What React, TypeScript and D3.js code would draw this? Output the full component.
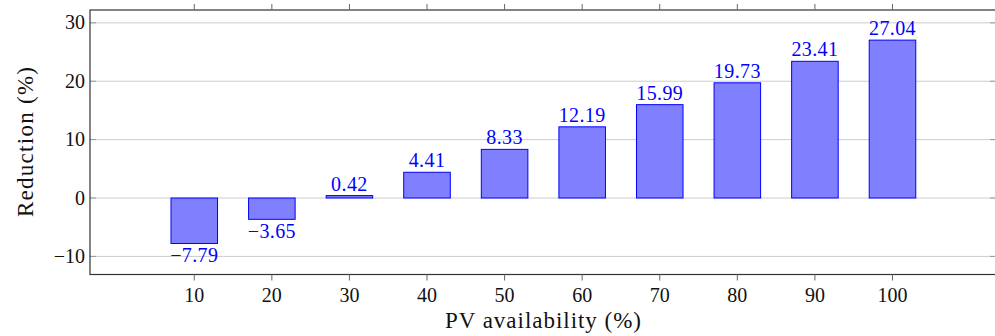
import React, { useEffect, useRef } from "react";
import * as d3 from "d3";

const categories = [10, 20, 30, 40, 50, 60, 70, 80, 90, 100];
const reductions = [-7.79, -3.65, 0.42, 4.41, 8.33, 12.19, 15.99, 19.73, 23.41, 27.04];
const yTicks = [-10, 0, 10, 20, 30];
const xLabel = "PV availability (%)";
const yLabel = "Reduction (%)";

const W = 995;
const H = 336;
const left = 90;
const right = 998;
const top = 10;
const bottom = 274.5;
const FONT = "'Liberation Serif', serif";

export default function App() {
  const ref = useRef<SVGSVGElement | null>(null);

  useEffect(() => {
    const svg = d3.select(ref.current);
    svg.selectAll("*").remove();

    const x = d3.scaleLinear().domain([-3.44, 113.6]).range([left, right]);
    const y = d3.scaleLinear().domain([-13.1, 32.2]).range([bottom, top]);
    const barW = x(6) - x(0);

    svg
      .append("g")
      .selectAll("line")
      .data(yTicks)
      .join("line")
      .attr("x1", left)
      .attr("x2", right)
      .attr("y1", (d) => y(d))
      .attr("y2", (d) => y(d))
      .attr("stroke", "#cccccc")
      .attr("stroke-width", 1);

    const yt = svg.append("g");
    yt.selectAll("line.l")
      .data(yTicks)
      .join("line")
      .attr("class", "l")
      .attr("x1", left)
      .attr("x2", left + 6)
      .attr("y1", (d) => y(d))
      .attr("y2", (d) => y(d))
      .attr("stroke", "#999")
      .attr("stroke-width", 1);
    yt.selectAll("line.r")
      .data(yTicks)
      .join("line")
      .attr("class", "r")
      .attr("x1", right - 8)
      .attr("x2", right)
      .attr("y1", (d) => y(d))
      .attr("y2", (d) => y(d))
      .attr("stroke", "#999")
      .attr("stroke-width", 1);

    const rows = categories.map((c, i) => ({ c, v: reductions[i] }));

    svg
      .append("g")
      .selectAll("rect")
      .data(rows)
      .join("rect")
      .attr("x", (d) => x(d.c) - barW / 2)
      .attr("width", barW)
      .attr("y", (d) => Math.min(y(d.v), y(0)))
      .attr("height", (d) => Math.abs(y(d.v) - y(0)))
      .attr("fill", "#8080ff")
      .attr("stroke", "#0000ff")
      .attr("stroke-width", 1);

    svg
      .append("g")
      .selectAll("text")
      .data(rows)
      .join("text")
      .attr("x", (d) => x(d.c))
      .attr("y", (d) => (d.v >= 0 ? y(d.v) - 5 : y(d.v) + 19))
      .attr("text-anchor", "middle")
      .attr("font-family", FONT)
      .attr("font-size", 20)
      .attr("letter-spacing", 0.4)
      .attr("fill", "#0000ff")
      .text((d) => (d.v < 0 ? "\u2212" + Math.abs(d.v).toFixed(2) : d.v.toFixed(2)));

    svg
      .append("rect")
      .attr("x", left)
      .attr("y", top)
      .attr("width", right - left)
      .attr("height", bottom - top)
      .attr("fill", "none")
      .attr("stroke", "#333")
      .attr("stroke-width", 1.2);

    const xt = svg.append("g");
    xt.selectAll("line.b")
      .data(categories)
      .join("line")
      .attr("class", "b")
      .attr("x1", (d) => x(d))
      .attr("x2", (d) => x(d))
      .attr("y1", bottom)
      .attr("y2", bottom + 6)
      .attr("stroke", "#666");
    xt.selectAll("line.t")
      .data(categories)
      .join("line")
      .attr("class", "t")
      .attr("x1", (d) => x(d))
      .attr("x2", (d) => x(d))
      .attr("y1", top)
      .attr("y2", top - 6)
      .attr("stroke", "#666");

    svg
      .append("g")
      .selectAll("text")
      .data(categories)
      .join("text")
      .attr("x", (d) => x(d))
      .attr("y", 302)
      .attr("text-anchor", "middle")
      .attr("font-family", FONT)
      .attr("font-size", 20)
      .attr("fill", "#111")
      .text((d) => String(d));

    svg
      .append("g")
      .selectAll("text")
      .data(yTicks)
      .join("text")
      .attr("x", 85)
      .attr("y", (d) => y(d) + 6.5)
      .attr("text-anchor", "end")
      .attr("font-family", FONT)
      .attr("font-size", 20)
      .attr("fill", "#111")
      .text((d) => (d < 0 ? "\u2212" + Math.abs(d) : String(d)));

    svg
      .append("text")
      .attr("x", 543)
      .attr("y", 328)
      .attr("text-anchor", "middle")
      .attr("font-family", FONT)
      .attr("font-size", 23)
      .attr("textLength", 196)
      .attr("lengthAdjust", "spacing")
      .attr("fill", "#111")
      .text(xLabel);

    svg
      .append("text")
      .attr("transform", `translate(33,142) rotate(-90)`)
      .attr("text-anchor", "middle")
      .attr("font-family", FONT)
      .attr("font-size", 23)
      .attr("textLength", 150)
      .attr("lengthAdjust", "spacing")
      .attr("fill", "#111")
      .text(yLabel);
  }, []);

  return (
    <svg
      ref={ref}
      width={W}
      height={H}
      style={{ position: "absolute", left: 0, top: 0, background: "#fff" }}
    />
  );
}
